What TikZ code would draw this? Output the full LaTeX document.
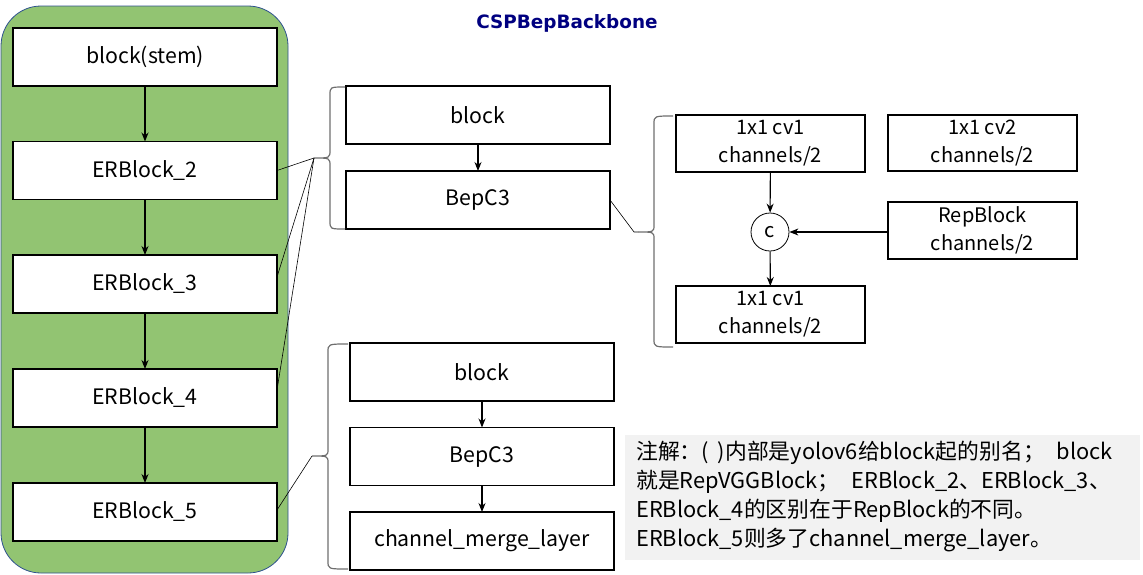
\documentclass[tikz,border=0pt]{standalone}
\usepackage{fontspec}
\setmainfont{Noto Sans CJK SC}
\newfontfamily\titlefont{DejaVu Sans}
\usetikzlibrary{arrows.meta}
\definecolor{panelgreen}{RGB}{146,196,114}
\definecolor{panelborder}{RGB}{47,82,143}
\definecolor{notegray}{RGB}{242,242,242}
\definecolor{bracegray}{RGB}{110,110,110}
\definecolor{titleblue}{RGB}{0,0,128}
\begin{document}
\begin{tikzpicture}[x=1pt,y=-1pt,
  box/.style={draw=black,line width=1.1pt,fill=white,minimum width=264pt,minimum height=58pt,inner sep=0pt,outer sep=0pt,font=\fontsize{21.3}{28}\selectfont},
  sbox/.style={box,minimum width=189pt,minimum height=57pt,align=center,font=\fontsize{20}{28}\selectfont},
  flow/.style={-{Stealth[length=9pt,width=7pt]},line width=1.1pt},
  link/.style={line width=0.6pt,black},
  bracestyle/.style={line width=1.2pt,bracegray}]
\useasboundingbox (0,0) rectangle (1143,574);
% panel
\draw[panelborder,line width=0.8pt,fill=panelgreen,rounded corners=40pt] (1,6) rectangle (288,573);
% title
\node[font=\titlefont\bfseries\fontsize{18.4}{20}\selectfont,text=titleblue] (title) at (567,23) {CSPBepBackbone};
% left column
\node[box] (stem) at (145,57) {block(stem)};
\node[box] (e2) at (145,170.5) {ERBlock\_2};
\node[box] (e3) at (145,284) {ERBlock\_3};
\node[box] (e4) at (145,398) {ERBlock\_4};
\node[box] (e5) at (145,512) {ERBlock\_5};
\draw[flow] (stem) -- (e2);
\draw[flow] (e2) -- (e3);
\draw[flow] (e3) -- (e4);
\draw[flow] (e4) -- (e5);
% upper middle group
\node[box] (b1) at (478,115) {block};
\node[box] (c1) at (478,200) {BepC3};
\draw[flow] (b1) -- (c1);
\coordinate (tip1) at (314,158);
\draw[bracestyle] (345,87) .. controls (330,87) .. (330,95) -- (330,150) .. controls (330,158) .. (tip1) .. controls (330,158) .. (330,166) -- (330,221) .. controls (330,229) .. (345,229);
\draw[link] (e2.east) -- (tip1);
\draw[link] ([yshift=7pt]e3.east) -- (tip1);
\draw[link] ([yshift=8pt]e4.east) -- (tip1);
% lower middle group
\node[box] (b2) at (482,372) {block};
\node[box] (c2) at (482,456.5) {BepC3};
\node[box] (cml) at (482,541) {channel\_merge\_layer};
\draw[flow] (b2) -- (c2);
\draw[flow] (c2) -- (cml);
\coordinate (tip2) at (312,456);
\draw[bracestyle] (348,344) .. controls (328,344) .. (328,352) -- (328,449) .. controls (328,456) .. (tip2) .. controls (328,456) .. (328,463) -- (328,561) .. controls (328,569) .. (348,569);
\draw[link] ([yshift=2pt]e5.east) -- (tip2);
% right group
\node[sbox] (cv1) at (770.5,143.5) {1x1 cv1\\channels/2};
\node[sbox,minimum height=56pt] (cv2) at (982.5,143) {1x1 cv2\\channels/2};
\node[sbox] (rep) at (982.5,230.5) {RepBlock\\channels/2};
\node[draw=black,line width=0.8pt,circle,minimum size=38pt,inner sep=0pt,fill=white,font=\fontsize{20}{24}\selectfont] (cat) at (770,232) {c};
\node[sbox] (cv3) at (770.5,314.5) {1x1 cv1\\channels/2};
\draw[flow] (cv1) -- (cat);
\draw[flow] (rep.west |- cat) -- (cat);
\draw[flow] (cat) -- (cv3);
\coordinate (tip3) at (638,232);
\coordinate (bend) at (634,232);
\draw[bracestyle] (673,116) .. controls (654,116) .. (654,124) -- (654,225) .. controls (654,232) .. (tip3) .. controls (654,232) .. (654,239) -- (654,339) .. controls (654,347) .. (673,347);
\draw[link] (c1.east) -- (bend) -- (tip3);
% note
\node[fill=notegray,minimum width=515pt,minimum height=125pt,inner sep=0pt,outer sep=0pt] (notebg) at (882.5,497) {};
\node[anchor=north west,align=left,inner sep=0pt,font=\fontsize{21.8}{29}\selectfont] (note) at (636,441) {注解：(\hspace{9pt})内部是yolov6给block起的别名；\hspace{12pt}block\\就是RepVGGBlock；\hspace{12pt}ERBlock\_2、ERBlock\_3、\\ERBlock\_4的区别在于RepBlock的不同。\\ERBlock\_5则多了channel\_merge\_layer。};
\end{tikzpicture}
\end{document}
